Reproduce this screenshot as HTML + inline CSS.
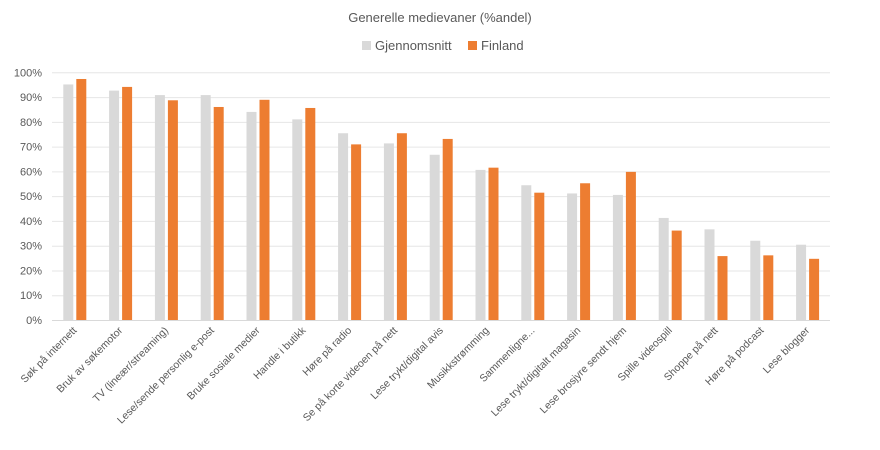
<!DOCTYPE html>
<html><head><meta charset="utf-8"><style>
body{margin:0;background:#fff;}
svg{display:block;font-family:"Liberation Sans",sans-serif;}
</style></head><body>
<svg width="880" height="450" xmlns="http://www.w3.org/2000/svg">
<rect width="880" height="450" fill="#fff"/>
<text x="440" y="22" text-anchor="middle" font-size="13" fill="#595959">Generelle medievaner (%andel)</text>
<rect x="362" y="41" width="9" height="9" fill="#d9d9d9"/>
<text x="375" y="50" font-size="13" fill="#595959">Gjennomsnitt</text>
<rect x="468" y="41" width="9" height="9" fill="#ed7d31"/>
<text x="481" y="50" font-size="13" fill="#595959">Finland</text>
<g id="grid" stroke="#e6e6e6" stroke-width="1"></g>
<g id="ylab" font-size="11" fill="#595959" text-anchor="end"></g>
<g id="bars"></g>
<g id="xlab" font-size="10.5" fill="#595959" text-anchor="end"></g>
</svg>
<script>
const ns="http://www.w3.org/2000/svg";
function el(t,a,p,txt){const e=document.createElementNS(ns,t);for(const k in a)e.setAttribute(k,a[k]);if(txt)e.textContent=txt;document.getElementById(p).appendChild(e);}
const y0=320,s=2.477;
for(let i=0;i<=10;i++){const y=y0-i*24.77;el('line',{x1:52,x2:830,y1:y+0.5,y2:y+0.5,stroke:i==0?'#d9d9d9':'#e6e6e6'},'grid');el('text',{x:42,y:y+4},'ylab',(i*10)+'%');}
const g=[95.1,92.6,90.8,90.8,84.0,81.0,75.4,71.3,66.7,60.6,54.4,51.1,50.5,41.2,36.6,32.0,30.4];
const o=[97.3,94.1,88.7,86.0,88.9,85.6,70.9,75.4,73.1,61.5,51.4,55.2,59.8,36.1,25.8,26.1,24.7];
const L=["Søk på internett","Bruk av søkemotor","TV (lineær/streaming)","Lese/sende personlig e-post","Bruke sosiale medier","Handle i butikk","Høre på radio","Se på korte videoen på nett","Lese trykt/digital avis","Musikkstrømming","Sammenligne...","Lese trykt/digitalt magasin","Lese brosjyre sendt hjem","Spille videospill","Shoppe på nett","Høre på podcast","Lese blogger"];
for(let i=0;i<17;i++){const x=63.3+45.8*i;
el('rect',{x:x,y:y0-g[i]*s,width:10,height:g[i]*s,fill:'#d9d9d9'},'bars');
el('rect',{x:x+13,y:y0-o[i]*s,width:10,height:o[i]*s,fill:'#ed7d31'},'bars');
const cx=x+14,cy=331;
el('text',{x:cx,y:cy,transform:`rotate(-45 ${cx} ${cy})`},'xlab',L[i]);}
</script>
</body></html>
